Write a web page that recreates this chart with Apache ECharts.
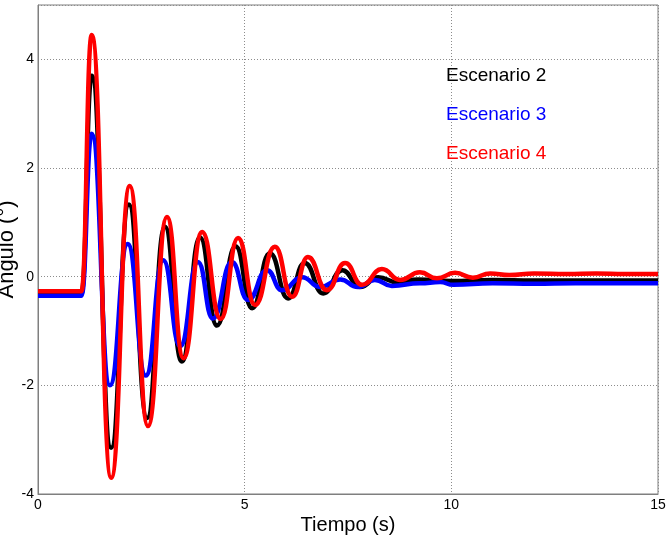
<!DOCTYPE html>
<html lang="es">
<head>
    <meta charset="UTF-8">
    <title>Angulo vs Tiempo</title>
    <style type="text/css">
        html, body { margin: 0; padding: 0; background: #fff; }
        #chart { width: 666px; height: 541px; }
    </style>
    <script src="https://cdn.jsdelivr.net/npm/echarts@6/dist/echarts.min.js"></script>
</head>
<body>
<div id="chart"></div>
<script type="application/javascript">
    // valores (picos y valles de cada escenario)
    var tEsc2 = [0, 1.05, 1.3, 1.77, 2.2, 2.64, 3.07, 3.48, 3.92, 4.33, 4.78, 5.18, 5.61, 6.05, 6.45, 6.9, 7.36, 7.79, 8.23, 8.69, 9.2, 10, 11, 12, 13, 14, 15];
    var vEsc2 = [-0.31, -0.31, 3.7, -3.15, 1.33, -2.6, 0.92, -1.56, 0.72, -0.9, 0.56, -0.58, 0.43, -0.4, 0.25, -0.31, 0.12, -0.19, -0.01, -0.1, -0.05, -0.08, -0.06, -0.07, -0.07, -0.07, -0.07];

    var tEsc3 = [0, 1.05, 1.3, 1.74, 2.17, 2.61, 3.03, 3.44, 3.87, 4.23, 4.69, 5.08, 5.54, 5.9, 6.39, 6.82, 7.31, 7.74, 8.15, 8.56, 9.24, 9.73, 10.05, 11, 12, 13, 14, 15];
    var vEsc3 = [-0.35, -0.35, 2.63, -2.0, 0.6, -1.82, 0.3, -1.28, 0.27, -0.77, 0.27, -0.43, 0.12, -0.25, -0.01, -0.19, -0.05, -0.19, -0.06, -0.17, -0.12, -0.1, -0.15, -0.12, -0.13, -0.12, -0.12, -0.12];

    var tEsc4 = [0, 1.05, 1.3, 1.77, 2.22, 2.66, 3.12, 3.52, 3.97, 4.42, 4.84, 5.25, 5.73, 6.15, 6.53, 6.99, 7.43, 7.84, 8.32, 8.76, 9.24, 9.65, 10.09, 10.52, 10.94, 11.4, 12.0, 12.8, 13.5, 14.2, 15];
    var vEsc4 = [-0.27, -0.27, 4.45, -3.7, 1.67, -2.75, 1.1, -1.5, 0.82, -0.78, 0.71, -0.52, 0.55, -0.37, 0.36, -0.25, 0.25, -0.15, 0.14, -0.06, 0.08, -0.03, 0.07, -0.02, 0.06, 0.03, 0.06, 0.05, 0.06, 0.05, 0.05];

    var nombres = ['Escenario 2', 'Escenario 3', 'Escenario 4'];
    var colores = ['#000000', '#0000ff', '#ff0000'];

    function pares(t, v) {
        var out = [];
        for (var i = 0; i < t.length; i++) {
            out.push([t[i], v[i]]);
        }
        return out;
    }

    var fuente = 'Liberation Sans, Arial, sans-serif';
    var rejilla = { type: [1, 2], color: '#8c8c8c', width: 1 };

    var chart = echarts.init(document.getElementById('chart'));
    var option = {
        animation: false,
        backgroundColor: '#fff',
        grid: {
            left: 38, right: 8, top: 5, bottom: 47,
            outerBoundsMode: 'none',
            containLabel: false,
            show: true, borderColor: '#7f7f7f', borderWidth: 1
        },
        legend: {
            orient: 'vertical',
            left: 436,
            top: 61,
            icon: 'none',
            itemWidth: 0,
            itemHeight: 20,
            itemGap: 19.5,
            selectedMode: false,
            textStyle: { fontFamily: fuente, fontSize: 19 },
            data: [
                { name: nombres[0], textStyle: { color: colores[0] } },
                { name: nombres[1], textStyle: { color: colores[1] } },
                { name: nombres[2], textStyle: { color: colores[2] } }
            ]
        },
        xAxis: {
            type: 'value',
            min: 0, max: 15, interval: 5,
            name: 'Tiempo (s)',
            nameLocation: 'middle',
            nameGap: 21,
            nameMoveOverlap: false,
            nameTextStyle: { fontFamily: fuente, fontSize: 20, color: '#000' },
            axisLine: { onZero: false, lineStyle: { color: '#7f7f7f' } },
            axisTick: { show: false },
            axisLabel: { fontFamily: fuente, fontSize: 14, color: '#000', margin: 4 },
            splitLine: { lineStyle: rejilla }
        },
        yAxis: {
            type: 'value',
            min: -4, max: 5, interval: 2,
            name: 'Angulo (°)',
            nameLocation: 'middle',
            nameGap: 20,
            nameMoveOverlap: false,
            nameTextStyle: { fontFamily: fuente, fontSize: 22, color: '#000' },
            axisLine: { show: true, onZero: false, lineStyle: { color: '#7f7f7f' } },
            axisTick: { show: false },
            axisLabel: { fontFamily: fuente, fontSize: 14, color: '#000', margin: 4, showMaxLabel: false },
            splitLine: { lineStyle: rejilla }
        },
        series: [
            {
                name: nombres[0], type: 'line', symbol: 'none',
                smooth: true, smoothMonotone: 'x',
                lineStyle: { color: colores[0], width: 4.5 },
                itemStyle: { color: colores[0] },
                data: pares(tEsc2, vEsc2)
            },
            {
                name: nombres[1], type: 'line', symbol: 'none',
                smooth: true, smoothMonotone: 'x',
                lineStyle: { color: colores[1], width: 4.5 },
                itemStyle: { color: colores[1] },
                data: pares(tEsc3, vEsc3)
            },
            {
                name: nombres[2], type: 'line', symbol: 'none',
                smooth: true, smoothMonotone: 'x',
                lineStyle: { color: colores[2], width: 4.5 },
                itemStyle: { color: colores[2] },
                data: pares(tEsc4, vEsc4)
            }
        ]
    };
    chart.setOption(option);
</script>
</body>
</html>
